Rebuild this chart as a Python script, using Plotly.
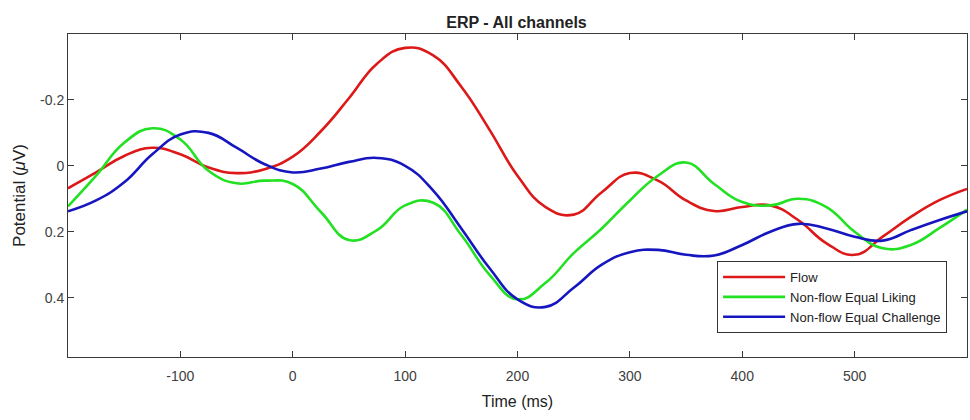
import plotly.graph_objects as go

time_ms = [-200, -175, -150, -125, -100, -75, -50, -25, 0, 25, 50, 75, 100, 125, 150, 175,
           200, 225, 250, 275, 300, 325, 350, 375, 400, 425, 450, 475, 500, 525, 550, 575, 600]

flow = [0.068, 0.02, -0.03, -0.055, -0.035, 0.005, 0.022, 0.01, -0.028, -0.105, -0.205, -0.31,
        -0.358, -0.335, -0.24, -0.11, 0.03, 0.125, 0.148, 0.08, 0.022, 0.045, 0.105, 0.137,
        0.125, 0.12, 0.165, 0.235, 0.27, 0.215, 0.155, 0.105, 0.07]

equal_liking = [0.123, 0.03, -0.07, -0.114, -0.08, 0.015, 0.053, 0.045, 0.055, 0.14, 0.225, 0.195,
                0.12, 0.112, 0.21, 0.33, 0.405, 0.355, 0.265, 0.19, 0.105, 0.03, -0.01, 0.055,
                0.11, 0.12, 0.1, 0.125, 0.2, 0.25, 0.24, 0.19, 0.133]

equal_challenge = [0.138, 0.105, 0.05, -0.035, -0.095, -0.1, -0.055, -0.005, 0.02, 0.008, -0.012,
                   -0.024, 0.0, 0.075, 0.19, 0.31, 0.405, 0.428, 0.37, 0.3, 0.262, 0.255, 0.27,
                   0.272, 0.24, 0.2, 0.176, 0.19, 0.215, 0.227, 0.195, 0.165, 0.138]

series_names = ["Flow", "Non-flow Equal Liking", "Non-flow Equal Challenge"]
series_colors = ["#dc1818", "#22e022", "#1616c0"]
x_ticks = [-100, 0, 100, 200, 300, 400, 500]
x_labels = ["-100", "0", "100", "200", "300", "400", "500"]
y_ticks = [-0.2, 0, 0.2, 0.4]
y_labels = ["-0.2", "0", "0.2", "0.4"]

FONT = "Liberation Sans, Arial, Helvetica"

fig = go.Figure()
for name, vals, col in zip(series_names, [flow, equal_liking, equal_challenge], series_colors):
    fig.add_trace(go.Scatter(x=time_ms, y=vals, mode="lines", name=name,
                             line=dict(color=col, width=2.6, shape="spline", smoothing=1.3)))

axis_common = dict(showline=True, linecolor="#3a3a3a", linewidth=1, mirror="ticks",
                   ticks="inside", ticklen=6, tickcolor="#3a3a3a", showgrid=False,
                   zeroline=False, tickfont=dict(family=FONT, size=14, color="#404040"))

fig.update_layout(
    width=970, height=420,
    margin=dict(l=68, r=3, t=34, b=63),
    paper_bgcolor="white", plot_bgcolor="white",
    title=dict(text="<b>ERP - All channels</b>", x=0.5325, xanchor="center", y=0.947, yanchor="middle",
               font=dict(family=FONT, size=16, color="#222222")),
    xaxis=dict(range=[-200, 600], tickvals=x_ticks, ticktext=x_labels, ticklabelstandoff=6,
               title=dict(text="Time (ms)", font=dict(family=FONT, size=16, color="#222222"),
                          standoff=13),
               **axis_common),
    yaxis=dict(range=[0.58, -0.4], tickvals=y_ticks, ticktext=y_labels,
               title=dict(text="Potential (<i>μ</i>V)", font=dict(family=FONT, size=17, color="#222222"),
                          standoff=10),
               **axis_common),
    legend=dict(x=0.722, y=0.297, xanchor="left", yanchor="top",
                bordercolor="#333333", borderwidth=1, bgcolor="white",
                font=dict(family=FONT, size=13, color="#222222"),
                itemwidth=62, tracegroupgap=0),
    showlegend=True,
)

fig.write_html("out.html")
